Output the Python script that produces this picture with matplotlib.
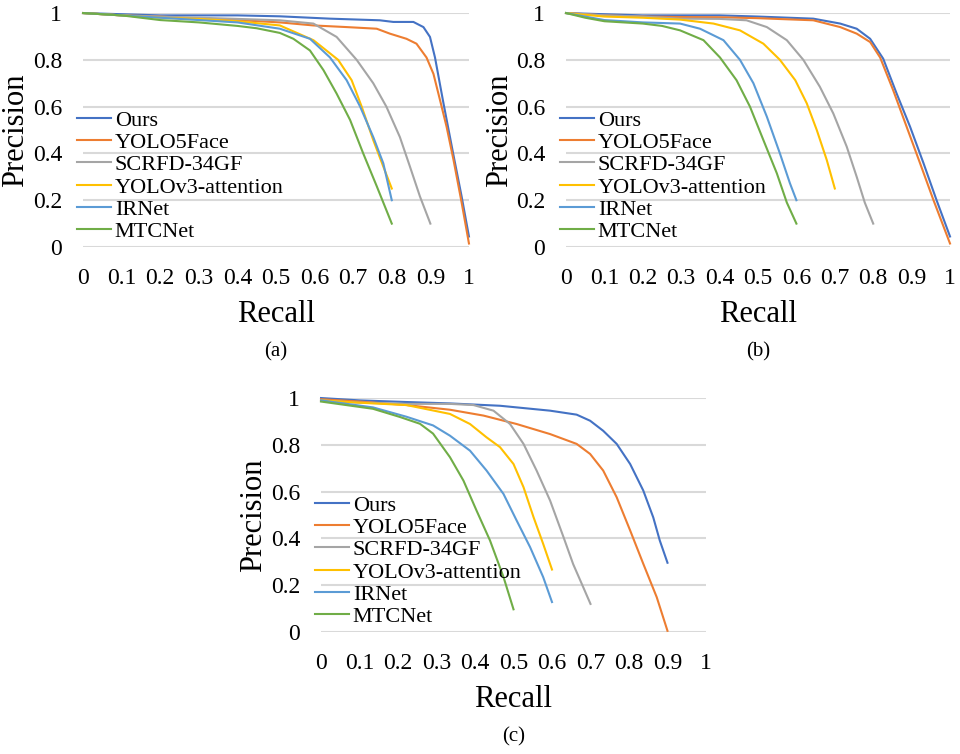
import matplotlib.pyplot as plt

plt.rcParams['font.family'] = ['Liberation Serif', 'DejaVu Serif']

names = ['Ours', 'YOLO5Face', 'SCRFD-34GF', 'YOLOv3-attention', 'IRNet', 'MTCNet']
colors = ['#4472C4', '#ED7D31', '#A5A5A5', '#FFC000', '#5B9BD5', '#70AD47']

# (a)
a_ours_x = [0, 0.1, 0.2, 0.3, 0.4, 0.51, 0.64, 0.769, 0.804, 0.856, 0.882, 0.899, 0.912, 0.934, 0.959, 0.981, 1.0]
a_ours_y = [1, 0.995, 0.99, 0.99, 0.99, 0.986, 0.976, 0.969, 0.962, 0.962, 0.94, 0.898, 0.81, 0.614, 0.40, 0.216, 0.045]
a_yolo5_x = [0, 0.1, 0.2, 0.3, 0.4, 0.51, 0.597, 0.683, 0.761, 0.795, 0.838, 0.864, 0.89, 0.908, 0.925, 0.942, 0.96, 0.981, 1.0]
a_yolo5_y = [1, 0.99, 0.985, 0.975, 0.97, 0.96, 0.947, 0.94, 0.933, 0.912, 0.89, 0.869, 0.81, 0.74, 0.628, 0.514, 0.372, 0.19, 0.015]
a_scrfd_x = [0, 0.1, 0.2, 0.3, 0.4, 0.51, 0.597, 0.657, 0.709, 0.752, 0.786, 0.821, 0.847, 0.873, 0.90]
a_scrfd_y = [1, 0.99, 0.985, 0.98, 0.975, 0.969, 0.955, 0.898, 0.80, 0.70, 0.60, 0.47, 0.344, 0.216, 0.10]
a_yolov3_x = [0, 0.1, 0.2, 0.3, 0.4, 0.51, 0.597, 0.661, 0.696, 0.722, 0.752, 0.778, 0.80]
a_yolov3_y = [1, 0.99, 0.98, 0.975, 0.965, 0.947, 0.884, 0.80, 0.713, 0.60, 0.457, 0.344, 0.25]
a_irnet_x = [0, 0.1, 0.2, 0.3, 0.4, 0.51, 0.588, 0.64, 0.683, 0.718, 0.752, 0.778, 0.80]
a_irnet_y = [1, 0.99, 0.98, 0.97, 0.96, 0.933, 0.89, 0.81, 0.713, 0.60, 0.47, 0.358, 0.20]
a_mtc_x = [0, 0.1, 0.2, 0.3, 0.4, 0.45, 0.51, 0.545, 0.588, 0.623, 0.657, 0.692, 0.726, 0.761, 0.80]
a_mtc_y = [1, 0.99, 0.97, 0.96, 0.945, 0.935, 0.915, 0.89, 0.84, 0.756, 0.656, 0.543, 0.40, 0.26, 0.10]

# (b)
b_ours_x = [0, 0.1, 0.2, 0.297, 0.4, 0.5, 0.644, 0.714, 0.757, 0.792, 0.826, 0.861, 0.896, 0.931, 0.965, 1.0]
b_ours_y = [1, 0.995, 0.99, 0.99, 0.99, 0.985, 0.976, 0.955, 0.933, 0.89, 0.805, 0.656, 0.514, 0.358, 0.20, 0.045]
b_yolo5_x = [0, 0.1, 0.2, 0.297, 0.4, 0.5, 0.644, 0.714, 0.757, 0.792, 0.818, 0.852, 0.887, 0.922, 0.957, 1.0]
b_yolo5_y = [1, 0.99, 0.985, 0.983, 0.982, 0.978, 0.969, 0.94, 0.912, 0.876, 0.81, 0.67, 0.514, 0.358, 0.20, 0.015]
b_scrfd_x = [0, 0.1, 0.2, 0.297, 0.4, 0.47, 0.523, 0.575, 0.618, 0.661, 0.696, 0.731, 0.757, 0.778, 0.80]
b_scrfd_y = [1, 0.99, 0.985, 0.976, 0.975, 0.969, 0.94, 0.884, 0.80, 0.685, 0.571, 0.429, 0.30, 0.19, 0.10]
b_yolov3_x = [0, 0.1, 0.2, 0.297, 0.384, 0.453, 0.514, 0.557, 0.597, 0.627, 0.653, 0.679, 0.70]
b_yolov3_y = [1, 0.985, 0.98, 0.972, 0.955, 0.926, 0.869, 0.80, 0.713, 0.614, 0.50, 0.372, 0.25]
b_irnet_x = [0, 0.1, 0.2, 0.297, 0.349, 0.41, 0.453, 0.488, 0.523, 0.557, 0.583, 0.60]
b_irnet_y = [1, 0.97, 0.96, 0.955, 0.933, 0.884, 0.80, 0.70, 0.557, 0.40, 0.273, 0.20]
b_mtc_x = [0, 0.05, 0.1, 0.2, 0.25, 0.297, 0.358, 0.401, 0.444, 0.479, 0.514, 0.549, 0.575, 0.60]
b_mtc_y = [1, 0.98, 0.965, 0.955, 0.945, 0.926, 0.884, 0.81, 0.713, 0.60, 0.457, 0.315, 0.19, 0.10]

# (c)
c_ours_x = [0, 0.1, 0.222, 0.335, 0.465, 0.595, 0.664, 0.699, 0.733, 0.768, 0.803, 0.837, 0.863, 0.88, 0.90]
c_ours_y = [1, 0.99, 0.983, 0.977, 0.967, 0.946, 0.929, 0.903, 0.86, 0.804, 0.718, 0.605, 0.49, 0.391, 0.296]
c_yolo5_x = [0, 0.1, 0.222, 0.335, 0.422, 0.508, 0.595, 0.664, 0.699, 0.733, 0.768, 0.803, 0.837, 0.872, 0.90]
c_yolo5_y = [0.995, 0.985, 0.97, 0.95, 0.925, 0.889, 0.846, 0.804, 0.761, 0.69, 0.576, 0.434, 0.292, 0.149, 0.005]
c_scrfd_x = [0, 0.1, 0.222, 0.335, 0.396, 0.448, 0.491, 0.526, 0.56, 0.595, 0.63, 0.655, 0.681, 0.70]
c_scrfd_y = [0.99, 0.98, 0.975, 0.975, 0.97, 0.946, 0.889, 0.804, 0.69, 0.562, 0.405, 0.29, 0.192, 0.12]
c_yolov3_x = [0, 0.1, 0.222, 0.335, 0.387, 0.43, 0.465, 0.50, 0.526, 0.552, 0.577, 0.60]
c_yolov3_y = [0.99, 0.98, 0.97, 0.932, 0.889, 0.832, 0.79, 0.718, 0.619, 0.491, 0.377, 0.267]
c_irnet_x = [0, 0.135, 0.222, 0.291, 0.335, 0.387, 0.43, 0.474, 0.508, 0.543, 0.577, 0.60]
c_irnet_y = [0.99, 0.96, 0.92, 0.883, 0.839, 0.775, 0.69, 0.59, 0.477, 0.363, 0.235, 0.128]
c_mtc_x = [0, 0.135, 0.205, 0.257, 0.291, 0.335, 0.37, 0.404, 0.439, 0.474, 0.50]
c_mtc_y = [0.985, 0.954, 0.919, 0.89, 0.848, 0.747, 0.647, 0.519, 0.391, 0.235, 0.097]

panels = [
    ('(a)', [0.0865, 0.6724, 0.402, 0.3103],
     [(a_ours_x, a_ours_y), (a_yolo5_x, a_yolo5_y), (a_scrfd_x, a_scrfd_y),
      (a_yolov3_x, a_yolov3_y), (a_irnet_x, a_irnet_y), (a_mtc_x, a_mtc_y)]),
    ('(b)', [0.5896, 0.6724, 0.400, 0.3103],
     [(b_ours_x, b_ours_y), (b_yolo5_x, b_yolo5_y), (b_scrfd_x, b_scrfd_y),
      (b_yolov3_x, b_yolov3_y), (b_irnet_x, b_irnet_y), (b_mtc_x, b_mtc_y)]),
    ('(c)', [0.3344, 0.1618, 0.401, 0.3103],
     [(c_ours_x, c_ours_y), (c_yolo5_x, c_yolo5_y), (c_scrfd_x, c_scrfd_y),
      (c_yolov3_x, c_yolov3_y), (c_irnet_x, c_irnet_y), (c_mtc_x, c_mtc_y)]),
]

fig = plt.figure(figsize=(9.6, 7.54), dpi=100)

for cap, rect, series in panels:
    ax = fig.add_axes(rect)
    for (x, y), name, c in zip(series, names, colors):
        ax.plot(x, y, color=c, lw=1.5, label=name, clip_on=False, zorder=3)
    ax.set_xlim(0, 1)
    ax.set_ylim(0, 1)
    ax.set_xticks([i / 10 for i in range(11)])
    ax.set_xticklabels(['0'] + ['%.1f' % (i / 10) for i in range(1, 10)] + ['1'])
    ax.set_yticks([0, 0.2, 0.4, 0.6, 0.8, 1])
    ax.set_yticklabels(['0', '0.2', '0.4', '0.6', '0.8', '1'])
    ax.tick_params(length=0, labelsize=17)
    ax.tick_params(axis='x', pad=15)
    ax.tick_params(axis='y', pad=15)
    for s in ax.spines.values():
        s.set_visible(False)
    ax.grid(axis='y', color='#d9d9d9', lw=1.5)
    ax.set_axisbelow(True)
    ax.set_xlabel('Recall', fontsize=22)
    ax.xaxis.set_label_coords(0.5, -0.225)
    ax.set_ylabel('Precision', fontsize=22, va='center')
    ax.yaxis.set_label_coords(-0.174, 0.5)
    ax.legend(loc='center left', bbox_to_anchor=(-0.016, 0.303), frameon=False,
              fontsize=16, handlelength=1.53, handletextpad=0.18, labelspacing=0.08,
              borderpad=0, borderaxespad=0)
    ax.text(0.5, -0.45, cap, transform=ax.transAxes, ha='center', va='center', fontsize=15)

plt.savefig('out.png', dpi=100)
